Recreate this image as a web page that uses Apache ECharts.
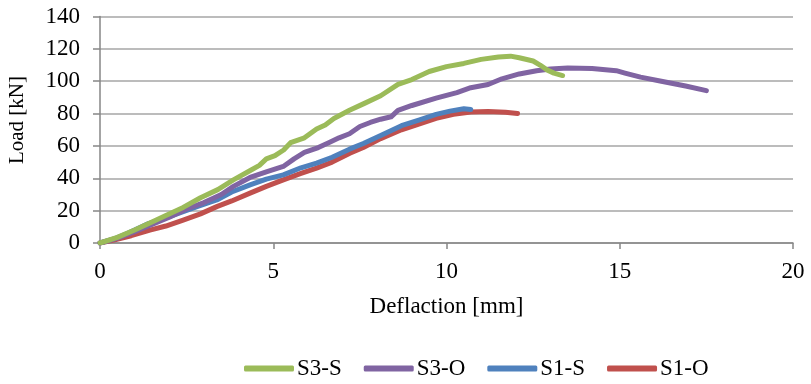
<!DOCTYPE html>
<html><head><meta charset="utf-8">
<script src="https://cdn.jsdelivr.net/npm/echarts@6/dist/echarts.min.js"></script>
<style>html,body{margin:0;padding:0;background:#fff}#c{width:811px;height:384px}</style>
</head><body><div id="c"></div>
<script>
var seriesNames = ['S3-S', 'S3-O', 'S1-S', 'S1-O'];
var s3s = [[0,0],[0.5,3.5],[1,8],[1.5,13],[1.9,17],[2.4,22],[2.9,28],[3.4,33],[3.85,39],[4.35,45],[4.6,48],[4.8,52],[5.05,54],[5.3,57.5],[5.5,62],[5.9,65],[6.25,70.5],[6.5,73],[6.75,77],[7.2,82],[7.6,86],[8.1,91],[8.6,98],[9,101],[9.5,106],[10,109],[10.5,111],[11,113.5],[11.5,115],[11.85,115.5],[12.1,114.5],[12.5,112.5],[12.7,110],[12.9,107],[13.1,105],[13.35,103.5]];
var s3o = [[0,0],[0.5,3],[1,7],[1.5,11.5],[2,16],[2.5,21],[3,25],[3.5,30],[3.85,35],[4.33,40.5],[4.8,44],[5.29,47.3],[5.6,52],[5.9,56],[6.3,59],[6.6,62],[6.9,65],[7.2,67.5],[7.5,72],[7.8,74.5],[8.1,76.5],[8.4,78],[8.6,82],[9,85],[9.7,89.5],[10.3,93],[10.7,96],[11.2,98],[11.6,101.5],[12.1,104.5],[12.6,106.5],[13,107.5],[13.5,108.2],[14.2,107.8],[14.9,106.5],[15.15,105],[15.6,102.5],[16.2,100],[16.9,97],[17.5,94.2]];
var s1s = [[0,0],[0.4,2.5],[0.8,6],[1.4,12],[1.9,15.5],[2.4,19.4],[2.8,22.5],[3.37,26.6],[3.8,31.5],[4.33,35.9],[4.8,39.5],[5.29,42.1],[5.8,46.5],[6.25,49.4],[6.7,53],[7.2,58],[7.6,61.5],[8.1,66.5],[8.7,72.5],[9.2,76],[9.7,79.5],[10.1,81.5],[10.5,83],[10.7,82.5]];
var s1o = [[0,0],[0.4,1.8],[0.9,4.5],[1.44,8],[1.9,10.5],[2.4,14.2],[2.9,18],[3.37,22.5],[3.8,26],[4.33,30.8],[4.8,35],[5.29,39],[5.8,43],[6.25,46.3],[6.7,50],[7.21,55.5],[7.6,59],[8.1,64.5],[8.7,70],[9.2,73.5],[9.7,77],[10.2,79.5],[10.7,81],[11.2,81.3],[11.7,80.8],[12.05,80]];
var colors = ['#9BBB59', '#8064A2', '#4F81BD', '#C0504D'];
var allData = [s3s, s3o, s1s, s1o];

var font = 'Liberation Serif, Times New Roman, serif';
var chart = echarts.init(document.getElementById('c'), null, {renderer: 'canvas'});
chart.setOption({
  animation: false,
  color: colors,
  grid: {left: 100, right: 18, top: 16.5, bottom: 141, containLabel: false},
  legend: {
    data: seriesNames,
    top: 352,
    left: 239,
    icon: 'roundRect',
    itemWidth: 50, itemHeight: 6, itemGap: 22,
    textStyle: {fontFamily: font, fontSize: 23, color: '#000', padding: [0,0,0,-2]}
  },
  graphic: [{
    type: 'text', x: 17, y: 120, rotation: Math.PI / 2,
    style: {text: 'Load [kN]', fontFamily: font, fontSize: 21, fill: '#000', align: 'center', verticalAlign: 'middle'}
  }],
  xAxis: {
    type: 'value', min: 0, max: 20, interval: 5,
    name: 'Deflaction [mm]', nameLocation: 'middle', nameGap: 52,
    nameTextStyle: {fontFamily: font, fontSize: 23, color: '#000'},
    axisLine: {show: true, lineStyle: {color: '#868686', width: 1.5}},
    axisTick: {show: true, length: 6, lineStyle: {color: '#868686', width: 1.5}},
    axisLabel: {fontFamily: font, fontSize: 23, color: '#000', margin: 17},
    splitLine: {show: false}
  },
  yAxis: {
    type: 'value', min: 0, max: 140, interval: 20,
    axisLine: {show: true, lineStyle: {color: '#868686', width: 1.5}},
    axisTick: {show: true, length: 7, lineStyle: {color: '#868686', width: 1.5}},
    axisLabel: {fontFamily: font, fontSize: 23, color: '#000', margin: 20},
    splitLine: {show: true, lineStyle: {color: '#A6A6A6', width: 1.5}}
  },
  series: seriesNames.map(function(n, i) {
    return {
      name: n, type: 'line', data: allData[i], showSymbol: false, symbol: 'none',
      lineStyle: {width: 5, color: colors[i], cap: 'round', join: 'round'},
      itemStyle: {color: colors[i]},
      z: 10 - i
    };
  })
});
</script></body></html>
